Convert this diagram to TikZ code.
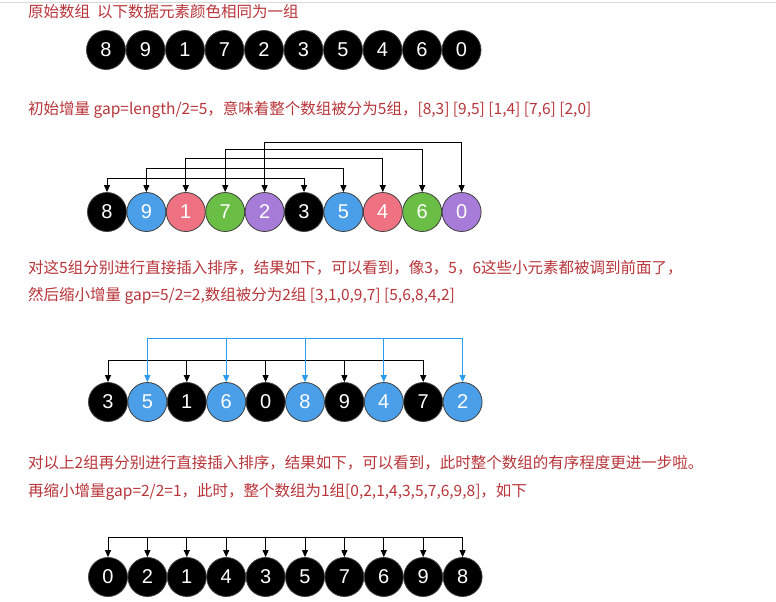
\documentclass[tikz,border=0pt]{standalone}
\usepackage{fontspec}
\setsansfont{Liberation Sans}
\newfontfamily\cjk{Noto Sans CJK SC}
\usetikzlibrary{arrows.meta}
\definecolor{txtred}{HTML}{B8353A}
\definecolor{cblue}{HTML}{4A9FE8}
\definecolor{cpink}{HTML}{EE7282}
\definecolor{cgreen}{HTML}{6BBE45}
\definecolor{cpurple}{HTML}{A67CD8}
\definecolor{lblue}{HTML}{2A9BEF}
\tikzset{
  ball/.style={circle,draw=black!75,line width=0.8pt,minimum size=39pt,inner sep=0pt,text=white,font=\sffamily\fontsize{20}{20}\selectfont},
  captxt/.style={anchor=west,text=txtred,font=\cjk\fontsize{15.5}{17}\selectfont,inner sep=0pt},
  conn/.style={-{Triangle[length=7pt,width=6pt]},line width=0.9pt},
}
\begin{document}
\begin{tikzpicture}[x=1pt,y=-1pt]
\fill[white] (0,0) rectangle (776,602);
\useasboundingbox (0,0) rectangle (776,602);
\draw[black!15] (0,2) -- (776,2);
\node[captxt] (t1) at (28,12) {原始数组\ \ 以下数据元素颜色相同为一组};
\node[captxt] (t2) at (28,110) {初始增量 gap=length/2=5，意味着整个数组被分为5组，[8,3] [9,5] [1,4] [7,6] [2,0]};
\node[captxt] (t3) at (28,268) {对这5组分别进行直接插入排序，结果如下，可以看到，像3，5，6这些小元素都被调到前面了，};
\node[captxt] (t4) at (28,296) {然后缩小增量 gap=5/2=2,数组被分为2组 [3,1,0,9,7] [5,6,8,4,2]};
\node[captxt] (t5) at (28,463) {对以上2组再分别进行直接插入排序，结果如下，可以看到，此时整个数组的有序程度更进一步啦。};
\node[captxt] (t6) at (28,492) {再缩小增量gap=2/2=1，此时，整个数组为1组[0,2,1,4,3,5,7,6,9,8]，如下};
% row 1
\foreach \v [count=\i from 0] in {8,9,1,7,2,3,5,4,6,0}
  \node[ball,fill=black] (a\i) at (106+39.5*\i,50) {\v};
% row 2
\foreach \v/\c [count=\i from 0] in {8/black,9/cblue,1/cpink,7/cgreen,2/cpurple,3/black,5/cblue,4/cpink,6/cgreen,0/cpurple}
  \node[ball,fill=\c] (b\i) at (107+39.4*\i,212) {\v};
\foreach \k/\y in {0/178,1/168,2/158,3/149,4/142}{
  \pgfmathtruncatemacro\j{\k+5}
  \coordinate (bl\k) at (b\k.north |- 0,\y);
  \coordinate (br\k) at (b\j.north |- 0,\y);
  \draw[conn] (bl\k) -- (b\k.north);
  \draw[conn] (bl\k) -- (br\k) -- (b\j.north);
}
% row 3
\foreach \v/\c [count=\i from 0] in {3/black,5/cblue,1/black,6/cblue,0/black,8/cblue,9/black,4/cblue,7/black,2/cblue}
  \node[ball,fill=\c] (c\i) at (108+39.4*\i,402) {\v};
\coordinate (cb0) at (c0.north |- 0,360);
\coordinate (cb8) at (c8.north |- 0,360);
\draw[line width=0.9pt] (cb0) -- (cb8);
\foreach \i in {0,2,4,6,8} \draw[conn] (c\i.north |- cb0) -- (c\i.north);
\coordinate (cu1) at (c1.north |- 0,338);
\coordinate (cu9) at (c9.north |- 0,338);
\draw[line width=0.9pt,lblue] (cu1) -- (cu9);
\foreach \i in {1,3,5,7,9} \draw[conn,lblue] (c\i.north |- cu1) -- (c\i.north);
% row 4
\foreach \v [count=\i from 0] in {0,2,1,4,3,5,7,6,9,8}
  \node[ball,fill=black] (d\i) at (108+39.4*\i,577) {\v};
\coordinate (dl) at (d0.north |- 0,537);
\coordinate (dr) at (d9.north |- 0,537);
\draw[line width=0.9pt] (dl) -- (dr);
\foreach \i in {0,...,9} \draw[conn] (d\i.north |- dl) -- (d\i.north);
\end{tikzpicture}
\end{document}
